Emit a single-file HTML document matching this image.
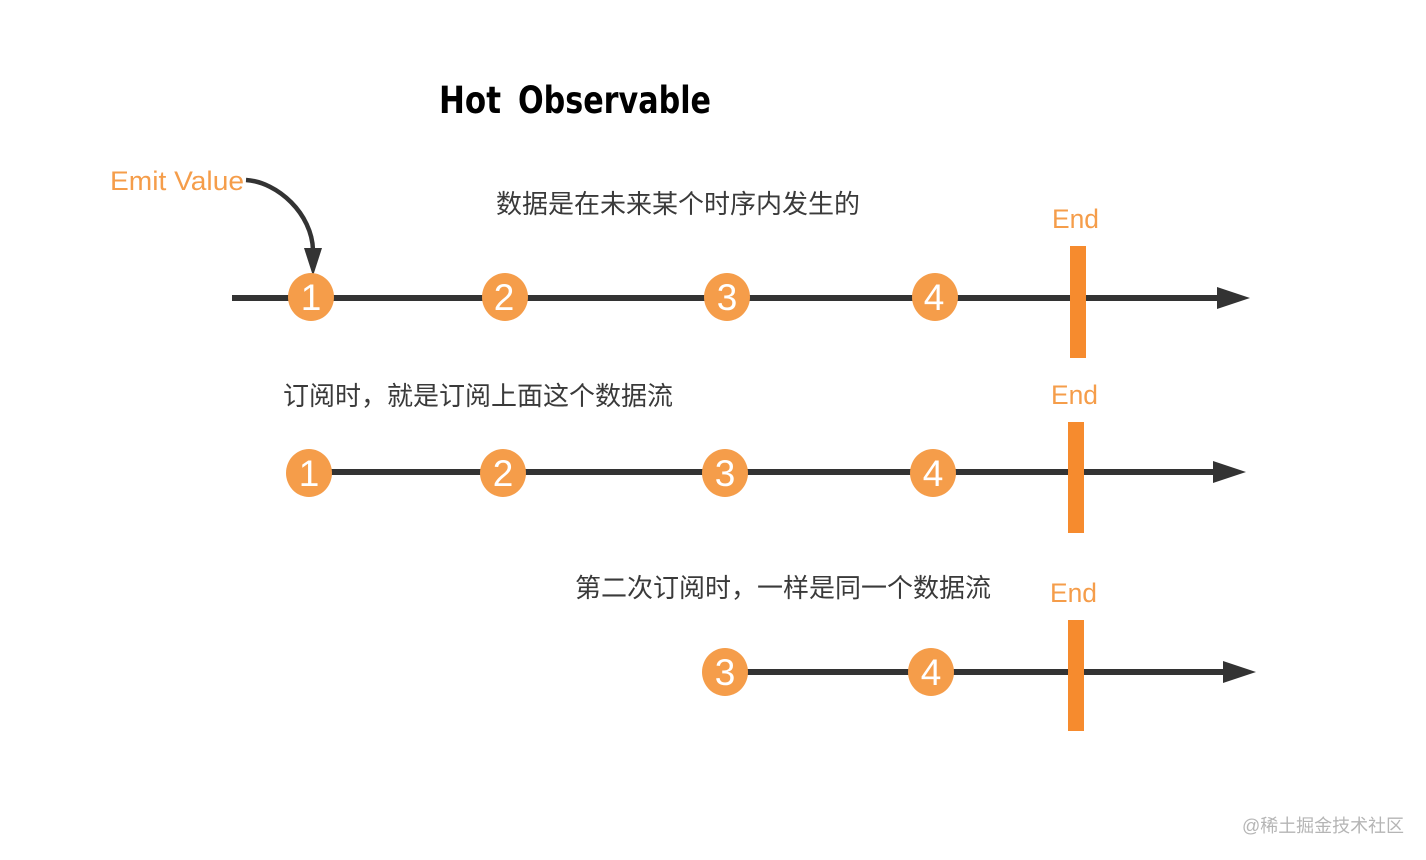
<!DOCTYPE html>
<html lang="zh">
<head>
<meta charset="utf-8">
<style>
html,body{margin:0;padding:0;background:#fff;width:1426px;height:860px;overflow:hidden}
svg{display:block}
text{font-family:"Liberation Sans","Noto Sans CJK SC",sans-serif}
.l{stroke:#333;stroke-width:6;fill:none}
.a{fill:#333}
.c{fill:#f59d4a}
.n{fill:#fff;font-size:37px;text-anchor:middle}
.o{fill:#f59d4a;font-size:27px}
.e{fill:#f68b2e}
.t{fill:#3a3a3a;font-size:26px}
.h{font-family:"DejaVu Sans",sans-serif;font-size:37px;font-weight:bold;fill:#000}
</style>
</head>
<body>
<svg width="1426" height="860" viewBox="0 0 1426 860" xmlns="http://www.w3.org/2000/svg">
<text class="h" x="439" y="113" textLength="62" lengthAdjust="spacingAndGlyphs">Hot</text>
<text class="h" x="518" y="113" textLength="193" lengthAdjust="spacingAndGlyphs">Observable</text>

<text class="o" x="110" y="190" textLength="134" lengthAdjust="spacingAndGlyphs">Emit Value</text>
<path d="M246 180 C278 182 312 214 313 250" fill="none" stroke="#333" stroke-width="4.5"/>
<polygon class="a" points="304,248 322,248 313,276"/>

<text class="t" x="496" y="213" textLength="364">数据是在未来某个时序内发生的</text>
<text class="t" x="283" y="405" textLength="390">订阅时，就是订阅上面这个数据流</text>
<text class="t" x="575" y="597" textLength="416">第二次订阅时，一样是同一个数据流</text>

<!-- Row 1 -->
<line class="l" x1="232" y1="298" x2="1225" y2="298"/>
<polygon class="a" points="1217,287 1250,298 1217,309"/>
<rect class="e" x="1070" y="246" width="16" height="112"/>
<text class="o" x="1052" y="228" textLength="47" lengthAdjust="spacingAndGlyphs">End</text>
<ellipse class="c" cx="311" cy="297" rx="23" ry="24"/><text class="n" x="311" y="310">1</text>
<ellipse class="c" cx="505" cy="297" rx="23" ry="24"/><text class="n" x="504" y="310">2</text>
<ellipse class="c" cx="727" cy="297" rx="23" ry="24"/><text class="n" x="727" y="310">3</text>
<ellipse class="c" cx="935" cy="297" rx="23" ry="24"/><text class="n" x="934" y="310">4</text>

<!-- Row 2 -->
<line class="l" x1="310" y1="472" x2="1221" y2="472"/>
<polygon class="a" points="1213,461 1246,472 1213,483"/>
<rect class="e" x="1068" y="422" width="16" height="111"/>
<text class="o" x="1051" y="404" textLength="47" lengthAdjust="spacingAndGlyphs">End</text>
<ellipse class="c" cx="309" cy="473" rx="23" ry="24"/><text class="n" x="309" y="486">1</text>
<ellipse class="c" cx="503" cy="473" rx="23" ry="24"/><text class="n" x="503" y="486">2</text>
<ellipse class="c" cx="725" cy="473" rx="23" ry="24"/><text class="n" x="725" y="486">3</text>
<ellipse class="c" cx="933" cy="473" rx="23" ry="24"/><text class="n" x="933" y="486">4</text>

<!-- Row 3 -->
<line class="l" x1="725" y1="672" x2="1231" y2="672"/>
<polygon class="a" points="1223,661 1256,672 1223,683"/>
<rect class="e" x="1068" y="620" width="16" height="111"/>
<text class="o" x="1050" y="602" textLength="47" lengthAdjust="spacingAndGlyphs">End</text>
<ellipse class="c" cx="725" cy="672" rx="23" ry="24"/><text class="n" x="725" y="685">3</text>
<ellipse class="c" cx="931" cy="672" rx="23" ry="24"/><text class="n" x="931" y="685">4</text>

<text x="1242" y="832" font-size="18" fill="#b5b5b5" textLength="162">@稀土掘金技术社区</text>
</svg>
</body>
</html>
